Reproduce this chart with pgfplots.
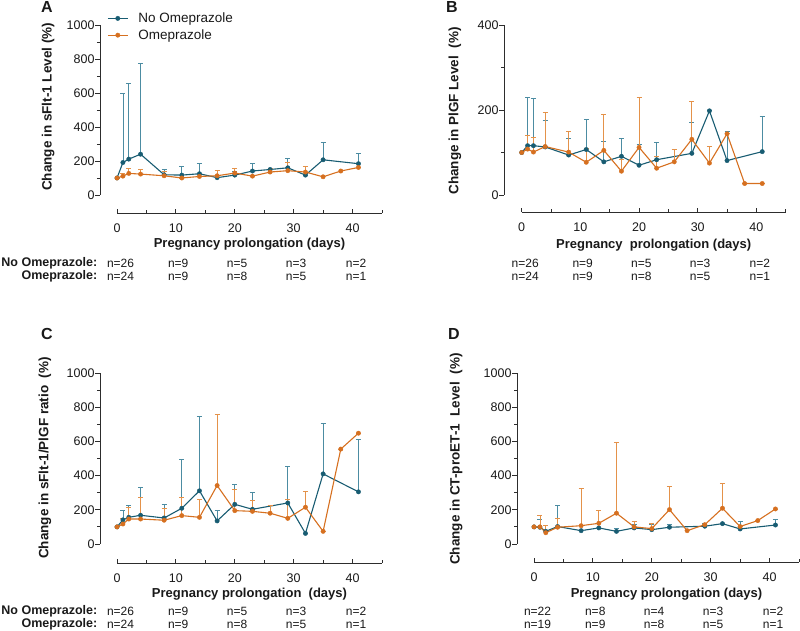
\documentclass[border=0pt]{standalone}
\usepackage{fontspec}
\setmainfont{Liberation Sans}
\usepackage{pgfplots}
\pgfplotsset{compat=1.18}
\definecolor{teal1}{RGB}{24,92,114}
\definecolor{orange1}{RGB}{214,112,32}
\definecolor{tealL}{RGB}{76,140,162}
\definecolor{orangeL}{RGB}{228,146,74}
\definecolor{axg}{RGB}{45,45,45}
\definecolor{txt}{RGB}{25,25,25}
\newcommand{\fs}[1]{\fontsize{#1}{#1}\selectfont}
\pgfplotsset{
  dataaxis/.style={
    scale only axis, clip=false,
    axis x line=none, axis y line=left,
    axis line style={-, line width=0.9pt, color=axg},
    tick align=outside, major tick length=5pt, minor tick length=3pt,
    tick style={line width=0.9pt, color=axg},
    minor y tick num=1,
    xmax=45, ymin=0,
    /pgf/number format/assume math mode=true,
    /pgf/number format/1000 sep={},
    yticklabel style={font=\fs{12.5}, color=txt, xshift=3pt},
    every axis y label/.style={rotate=90, anchor=center, font=\bfseries\fs{13.5}, color=txt},
  },
  xaxis/.style={
    scale only axis, clip=false,
    height=1pt,
    xmin=0, xmax=45, ymin=0, ymax=1,
    axis x line=bottom, axis y line=none,
    axis line style={-, line width=0.9pt, color=axg},
    tick align=inside, major tick length=4pt, minor tick length=2.5pt,
    tick style={line width=0.9pt, color=axg},
    xtick={0,10,20,30,40}, minor xtick={5,15,25,35,45},
    /pgf/number format/assume math mode=true,
    xticklabel style={font=\fs{12.5}, color=txt, yshift=-7pt},
    every axis x label/.style={at={(axis description cs:0.5,0)}, anchor=center, font=\bfseries\fs{13}, color=txt},
  },
  noome/.style={color=teal1, line width=1.1pt, mark=*, mark size=2.2pt,
    mark options={fill=teal1, draw=teal1, line width=0.4pt},
    /pgfplots/error bars/y dir=plus, /pgfplots/error bars/y explicit,
    /pgfplots/error bars/error bar style={line width=0.8pt, color=tealL},
    /pgfplots/error bars/error mark options={rotate=90, line width=0.8pt, color=tealL, mark size=2.5pt}},
  ome/.style={color=orange1, line width=1.1pt, mark=*, mark size=2.2pt,
    mark options={fill=orange1, draw=orange1, line width=0.4pt},
    /pgfplots/error bars/y dir=plus, /pgfplots/error bars/y explicit,
    /pgfplots/error bars/error bar style={line width=0.8pt, color=orangeL},
    /pgfplots/error bars/error mark options={rotate=90, line width=0.8pt, color=orangeL, mark size=2.5pt}},
}
\newcommand{\nlab}[3]{\node[font=\fs{12}, color=txt] at (axis cs:#1,0) [yshift=-#2pt] {#3};}
\newcommand{\nrow}[6]{\nlab{0.6}{#1}{#2}\nlab{10.4}{#1}{#3}\nlab{20.4}{#1}{#4}\nlab{30.4}{#1}{#5}\nlab{40.6}{#1}{#6}}

% ---------------- data ----------------
\pgfplotstableread{
x y e
0 100 0
1 191 409
2 211 443
4 240 535
8 119 31
11 117 49
14 125 59
17 102 0
20 117 22
23 141 45
26 150 0
29 160 57
32 117 0
35 207 100
41 184 58
}\Anoome
\pgfplotstableread{
x y e
0 100 0
1 111 16
2 127 29
4 123 29
8 113 24
11 100 0
14 109 0
17 113 33
20 129 27
23 111 0
26 135 19
29 143 47
32 135 31
35 107 0
38 141 0
41 162 0
}\Aome
\pgfplotstableread{
x y e
0 100 0
1 116 114
2 116 111
4 113 63
8 94 40
11 107 72
14 78 49
17 91 43
20 70 48
23 83 41
29 98 72
32 198 0
35 81 68
41 102 82
}\Bnoome
\pgfplotstableread{
x y e
0 100 0
1 108 33
2 101 34
4 114 80
8 101 48
11 77 33
14 105 85
17 56 27
20 112 118
23 63 28
26 78 29
29 131 90
32 75 40
35 144 0
38 27 0
41 27 0
}\Bome
\pgfplotstableread{
x y e
0 100 0
1 141 54
2 156 69
4 168 162
8 152 80
11 209 283
14 311 435
17 135 64
20 232 118
23 203 100
29 240 215
32 62 0
35 410 293
41 305 304
}\Cnoome
\pgfplotstableread{
x y e
0 100 0
1 117 31
2 146 67
4 146 124
8 139 70
11 166 104
14 156 102
17 342 418
20 195 125
23 191 65
26 180 43
29 150 108
32 215 95
35 74 0
38 555 0
41 648 0
}\Come
\pgfplotstableread{
x y e
0 100 0
1 98 45
2 74 33
4 102 123
8 78 0
11 94 0
14 74 18
17 94 23
20 84 33
23 98 19
29 104 19
32 119 0
35 88 45
41 111 30
}\Dnoome
\pgfplotstableread{
x y e
0 100 0
1 100 70
2 66 41
4 98 50
8 107 217
11 121 74
14 180 412
17 100 33
20 90 31
23 201 137
26 78 0
29 113 0
32 209 148
35 102 0
38 137 0
41 205 0
}\Dome

\begin{document}
\begin{tikzpicture}
\useasboundingbox (0,0) rectangle (800pt,631pt);

% ===== Panel A =====
\begin{axis}[dataaxis, at={(100pt,436pt)}, anchor=south west,
  width=282pt, height=170pt, xmin=-2.89, ymax=1000,
  ytick={0,200,400,600,800,1000},
  ylabel={Change in sFlt-1 Level (\%)},
  ylabel style={at={(axis description cs:-0.184,0.518)}},
  legend style={at={(axis description cs:0.025,1.085)}, anchor=north west,
    draw=none, fill=none, inner sep=0pt, font=\fs{13.5}, text=txt, row sep=1.5pt,
    /tikz/every odd column/.append style={column sep=8pt}},
  legend cell align=left,
  legend image code/.code={\draw[mark repeat=2,mark phase=2,#1] plot coordinates {(0pt,0pt) (10pt,0pt) (20pt,0pt)};},
]
\addplot[noome] table[x=x,y=y,y error=e] {\Anoome};
\addplot[ome] table[x=x,y=y,y error=e] {\Aome};
\legend{No Omeprazole, Omeprazole}
\end{axis}
\begin{axis}[xaxis, at={(117pt,418pt)}, anchor=south west, width=265pt,
  xlabel={Pregnancy prolongation (days)}, xlabel style={yshift=-31pt}]
\nrow{50}{n=26}{n=9}{n=5}{n=3}{n=2}
\nrow{63}{n=24}{n=9}{n=8}{n=5}{n=1}
\node[font=\bfseries\fs{12.5}, color=txt, anchor=east] at (axis cs:-2.75,0) [yshift=-50pt] {No Omeprazole:};
\node[font=\bfseries\fs{12.5}, color=txt, anchor=east] at (axis cs:-2.75,0) [yshift=-63pt] {Omeprazole:};
\end{axis}

% ===== Panel B =====
\begin{axis}[dataaxis, at={(504pt,436pt)}, anchor=south west,
  width=281.7pt, height=170pt, xmin=-3.02, ymax=400,
  ytick={0,200,400},
  ylabel={Change in PlGF Level~~(\%)},
  ylabel style={at={(axis description cs:-0.174,0.494)}},
]
\addplot[noome] table[x=x,y=y,y error=e] {\Bnoome};
\addplot[ome] table[x=x,y=y,y error=e] {\Bome};
\end{axis}
\begin{axis}[xaxis, at={(521.7pt,419pt)}, anchor=south west, width=264pt,
  xlabel={Pregnancy~~prolongation (days)}, xlabel style={yshift=-33pt}]
\nrow{51}{n=26}{n=9}{n=5}{n=3}{n=2}
\nrow{64}{n=24}{n=9}{n=8}{n=5}{n=1}
\end{axis}

% ===== Panel C =====
\begin{axis}[dataaxis, at={(100pt,87pt)}, anchor=south west,
  width=282pt, height=171pt, xmin=-2.89, ymax=1000,
  ytick={0,200,400,600,800,1000},
  ylabel={Change in sFlt-1/PlGF ratio~~(\%)},
  ylabel style={at={(axis description cs:-0.195,0.503)}},
]
\addplot[noome] table[x=x,y=y,y error=e] {\Cnoome};
\addplot[ome] table[x=x,y=y,y error=e] {\Come};
\end{axis}
\begin{axis}[xaxis, at={(117pt,68pt)}, anchor=south west, width=265pt,
  xlabel={Pregnancy prolongation~~(days)}, xlabel style={yshift=-31pt}]
\nrow{48}{n=26}{n=9}{n=5}{n=3}{n=2}
\nrow{61}{n=24}{n=9}{n=8}{n=5}{n=1}
\node[font=\bfseries\fs{12.5}, color=txt, anchor=east] at (axis cs:-2.75,0) [yshift=-48pt] {No Omeprazole:};
\node[font=\bfseries\fs{12.5}, color=txt, anchor=east] at (axis cs:-2.75,0) [yshift=-61pt] {Omeprazole:};
\end{axis}

% ===== Panel D =====
\begin{axis}[dataaxis, at={(517pt,87pt)}, anchor=south west,
  width=282pt, height=171pt, xmin=-2.89, ymax=1000,
  ytick={0,200,400,600,800,1000},
  ylabel={Change in CT-proET-1~~Level~~(\%)},
  ylabel style={at={(axis description cs:-0.216,0.497)}},
]
\addplot[noome] table[x=x,y=y,y error=e] {\Dnoome};
\addplot[ome] table[x=x,y=y,y error=e] {\Dome};
\end{axis}
\begin{axis}[xaxis, at={(534pt,69pt)}, anchor=south west, width=265pt,
  xlabel={Pregnancy prolongation (days)}, xlabel style={yshift=-32pt}]
\nrow{49}{n=22}{n=8}{n=4}{n=3}{n=2}
\nrow{62}{n=19}{n=9}{n=8}{n=5}{n=1}
\end{axis}

% panel letters
\node[font=\bfseries\fs{16}, color=txt] at (47pt,624pt) {A};
\node[font=\bfseries\fs{16}, color=txt] at (452pt,624pt) {B};
\node[font=\bfseries\fs{16}, color=txt] at (47pt,297pt) {C};
\node[font=\bfseries\fs{16}, color=txt] at (454pt,297pt) {D};
\end{tikzpicture}
\end{document}
